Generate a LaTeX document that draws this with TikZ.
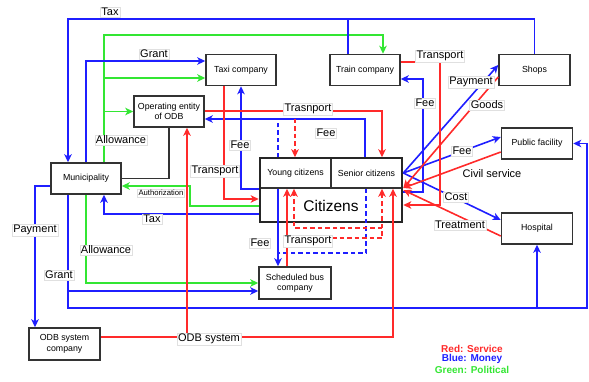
\documentclass[tikz,border=0pt]{standalone}
\usepackage{fontspec}
\setmainfont{Liberation Sans}
\usetikzlibrary{arrows.meta,positioning}
\definecolor{svcred}{HTML}{FF2A2A}
\definecolor{monblue}{HTML}{1F1FFF}
\definecolor{polgreen}{HTML}{33E633}

\begin{document}
\begin{tikzpicture}[
    x=1pt, y=-1pt,
    >={Stealth[length=8pt,width=7.5pt,inset=2.2pt]},
    box/.style={rectangle, draw=black!80, line width=1.5pt, fill=white, minimum width=70pt, minimum height=31pt, inner sep=1pt, align=center, font=\fontsize{8.8}{10.5}\selectfont},
    lbl/.style={fill=white, draw=black!12, line width=0.4pt, inner sep=1.2pt, font=\fontsize{11}{12}\selectfont},
    legend/.style={inner sep=0.5pt, font=\fontsize{10}{11}\selectfont\bfseries},
    service/.style={->, svcred, line width=1.6pt},
    money/.style={->, monblue, line width=1.6pt},
    political/.style={->, polgreen, line width=1.6pt},
    dash2/.style={dash pattern=on 4.5pt off 3pt}
]
\useasboundingbox (0,0) rectangle (589,381);

% actors
\node[box] (taxi) at (241,70) {Taxi company};
\node[box] (train) at (365,70) {Train company};
\node[box, minimum width=71pt] (shops) at (534.5,70) {Shops};
\node[box] (odb) at (169,111.5) {Operating entity\\of ODB};
\node[box] (muni) at (86,178.5) {Municipality};
\node[box, minimum width=71pt] (pub) at (537,143.5) {Public facility};
\node[box, minimum width=71pt] (hosp) at (537,228.5) {Hospital};
\node[box, minimum width=72pt, minimum height=32pt] (bus) at (295,283) {Scheduled bus\\company};
\node[box, minimum width=71pt, minimum height=32pt] (odbsys) at (64.5,344) {ODB system\\company};

% citizens
\node[box, minimum width=71pt, minimum height=30pt] (young) at (295.5,173) {Young citizens};
\node[box, minimum width=71pt, minimum height=30pt] (senior) at (366.5,173) {Senior citizens};
\node[rectangle, draw=black!85, line width=2.6pt, minimum width=142pt, minimum height=64pt] (cit) at (331,190) {};
\node[font=\fontsize{15.5}{17}\selectfont] (cittxt) at (331,205.5) {Citizens};

% political
\draw[political] (muni.north -| 104,0) |- (383,35) -- (train.north -| 383,0);
\draw[political] (104,78) -- (taxi.west |- 0,78);
\draw[political] (104,111.5) -- (odb.west);
\draw[political] (cit.west |- 0,206) -| (190,186) -- (muni.east |- 0,186);
\draw[political] (muni.south) |- (bus.west |- 0,283);

% money
\draw[money] (shops.north) |- (68,19) -- (muni.north -| 68,0);
\draw[money, -] (train.north -| 348,0) -- (348,19);
\draw[money] (muni.north) |- (taxi.west |- 0,61);
\draw[money] (cit.west |- 0,189) -| (taxi.south);
\draw[money] (senior.north -| 365,0) |- (odb.east |- 0,119);
\draw[money, -, dash2] (young.north -| 278,0) -- (278,119);
\draw[money] (young.south -| 278,0) -- (bus.north -| 278,0);
\draw[money, -, dash2] (senior.south -| 366,0) |- (278,253);
\draw[money] (cit.east |- 0,192) -- (423,192) |- (train.east |- 0,79);
\draw[money] (cit.east |- 0,173) -- (shops.west |- 0,65);
\draw[money] (cit.east |- 0,173) -- (pub.west |- 0,137);
\draw[money] (cit.east |- 0,173) -- (hosp.west |- 0,220);
\draw[money] (cit.west |- 0,214) -| (muni.south -| 104,0);
\draw[money] (muni.west |- 0,186) -| (odbsys.north -| 35,0);
\draw[money] (muni.south -| 68,0) |- (bus.west |- 0,291);
\draw[money] (muni.south -| 68,0) |- (587,308) |- (pub.east);
\coordinate (hospfoot) at (hosp.south |- 0,308);
\draw[money] (hospfoot) -- (hosp.south);

% service
\draw[service] (taxi.south -| 224,0) |- (cit.west |- 0,199);
\draw[service] (odb.east |- 0,111) -| (senior.north -| 382,0);
\draw[service, dash2] (295,111) -- (young.north -| 295,0);
\draw[service] (train.east |- 0,62) -| (440,205) -- (cit.east |- 0,205);
\draw[service] (shops.west |- 0,77) -- (cit.east |- 0,188);
\draw[service] (pub.west |- 0,152) -- (cit.east |- 0,188);
\draw[service] (hosp.west |- 0,236) -- (cit.east |- 0,190);
\draw[service] (bus.north -| 287,0) -- (young.south -| 287,0);
\draw[service, dash2] (287,238) -| (senior.south -| 382,0);
\draw[service, dash2] (382,228) -| (young.south -| 294,0);
\draw[service] (odbsys.east |- 0,337) -| (senior.south -| 393,0);
\draw[service] (187,337) -- (odb.south -| 187,0);

% management link
\draw[black!80, line width=1.5pt] (odb.south) |- (muni.east);

% flow labels
\node[lbl] (ltax) at (110,12) {Tax};
\node[lbl] (lgrant) at (154,54) {Grant};
\node[lbl] (lallow) at (121,140) {Allowance};
\node[lbl] (lfeetaxi) at (240,145) {Fee};
\node[lbl] (ltrtaxi) at (215,171) {Transport};
\node[lbl] (ltrodb) at (308,109) {Trasnport};
\node[lbl] (lfeeodb) at (326,133) {Fee};
\node[lbl] (ltrtrain) at (440,56) {Transport};
\node[lbl] (lfeetrain) at (425,103) {Fee};
\node[lbl] (lpay) at (471,82) {Payment};
\node[lbl] (lgoods) at (487,105) {Goods};
\node[lbl] (lfeepub) at (462,151) {Fee};
\node[lbl, draw=none, fill=none] (lcivil) at (492,174) {Civil service};
\node[lbl] (lcost) at (456,197) {Cost};
\node[lbl] (ltreat) at (460,225) {Treatment};
\node[lbl, font=\fontsize{7.7}{9}\selectfont] (lauth) at (161,193) {Authorization};
\node[lbl] (ltaxcit) at (152,219) {Tax};
\node[lbl] (lpayodb) at (35,230) {Payment};
\node[lbl] (lallowbus) at (106,250) {Allowance};
\node[lbl] (lgrantbus) at (59,275) {Grant};
\node[lbl] (lfeebus) at (260,243) {Fee};
\node[lbl] (ltrbus) at (308,241) {Transport};
\node[lbl] (lodbsys) at (209,339) {ODB system};

% legend
\node[legend, text=svcred] (legsvc) at (472,349) {Red: Service};
\node[legend, text=monblue, below=0.6pt of legsvc] (legmon) {Blue: Money};
\node[legend, text=polgreen, below=0.6pt of legmon] (legpol) {Green: Political};
\end{tikzpicture}
\end{document}
